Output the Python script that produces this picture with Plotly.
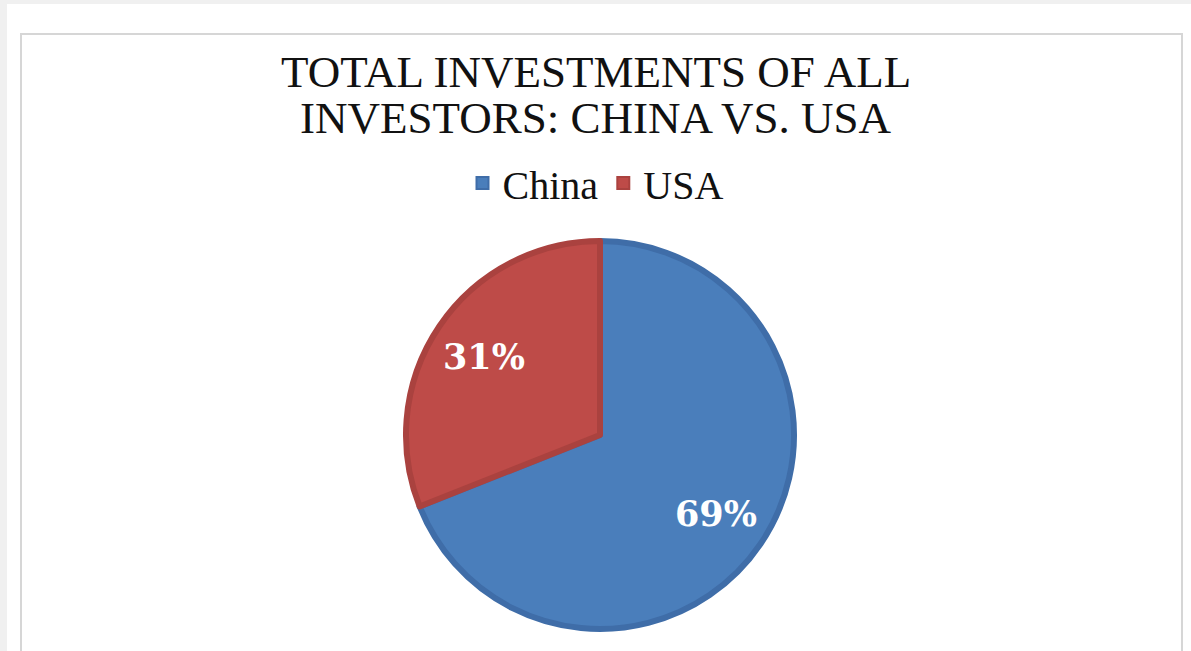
import math
import plotly.graph_objects as go

# Share of total investments by country
countries = ["China", "USA"]
shares = [69, 31]

title_lines = ["TOTAL INVESTMENTS OF ALL", "INVESTORS: CHINA VS. USA"]

fill_colors = ["#4a7ebb", "#be4b48"]
edge_colors = ["#3f6da8", "#aa423f"]

W, H = 1191, 651

# pie placement in pixels (centre and radius)
cx, cy, rad = 600, 435, 194
label_r = 0.72

fig = go.Figure(
    go.Pie(
        labels=countries,
        values=shares,
        sort=False,
        direction="clockwise",
        rotation=0,
        marker=dict(colors=fill_colors, line=dict(color=edge_colors, width=6)),
        textinfo="none",
        domain=dict(x=[(cx - rad) / W, (cx + rad) / W], y=[1 - (cy + rad) / H, 1 - (cy - rad) / H]),
        hoverinfo="label+percent",
    )
)

# percentage labels placed on each slice's bisector
annotations = []
total = sum(shares)
start = 0.0
for v in shares:
    frac = v / total
    mid = (start + frac / 2) * 2 * math.pi  # clockwise from 12 o'clock
    px = cx + label_r * rad * math.sin(mid)
    py = cy - label_r * rad * math.cos(mid)
    annotations.append(dict(
        text=f"{round(frac * 100)}%", x=px / W, y=1 - py / H, xref="paper", yref="paper",
        showarrow=False, xanchor="center", yanchor="middle",
        font=dict(family="DejaVu Serif", size=35, color="white", weight="bold"),
    ))
    start += frac

# two-line title with its own line spacing
for i, line in enumerate(title_lines):
    annotations.append(dict(
        text=line, x=0.5, y=1 - (72 + 46 * i) / H, xref="paper", yref="paper",
        showarrow=False, xanchor="center", yanchor="middle",
        font=dict(family="Liberation Serif", size=45, color="#111111"),
    ))

fig.update_layout(
    width=W,
    height=H,
    margin=dict(l=0, r=0, t=0, b=0),
    paper_bgcolor="#f0f0f0",
    plot_bgcolor="white",
    annotations=annotations,
    legend=dict(
        orientation="h",
        x=0.5,
        xanchor="center",
        y=1 - 183 / H,
        yanchor="middle",
        font=dict(family="Liberation Serif", size=40, color="#111111"),
        itemsizing="constant",
        traceorder="normal",
        bgcolor="rgba(0,0,0,0)",
    ),
    shapes=[
        # white page area
        dict(type="rect", xref="paper", yref="paper", x0=7 / W, x1=1, y0=0, y1=1 - 4 / H,
             fillcolor="white", line=dict(width=0), layer="below"),
        # chart frame
        dict(type="rect", xref="paper", yref="paper", x0=21 / W, x1=1182 / W, y0=-0.05, y1=1 - 34 / H,
             fillcolor="white", line=dict(color="#d6d6d6", width=2), layer="below"),
    ],
)

fig.write_html("out.html")
